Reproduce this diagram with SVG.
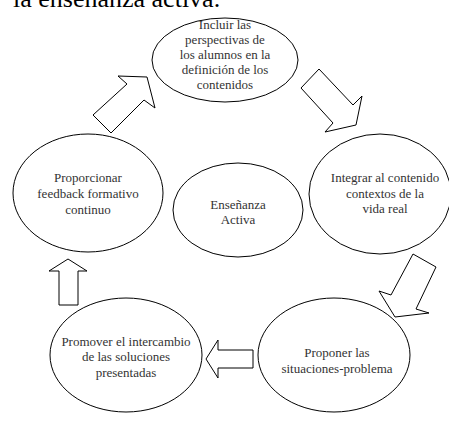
<svg xmlns="http://www.w3.org/2000/svg" width="449" height="421" viewBox="0 0 449 421">
<style>
.n{fill:#fff;stroke:#000;stroke-width:1}
.t{font-size:13px;fill:#333;text-anchor:middle}
.a{fill:#fff;stroke:#000;stroke-width:1;stroke-linejoin:miter}
</style>
<rect width="449" height="421" fill="#fff"/>
<text x="13" y="7" font-family="'Liberation Serif','Times New Roman',serif" font-size="26" fill="#000">la enseñanza activa.</text>
<g id="connectors">
<polygon class="a" points="93,115 127,84 118,76 147,77 155,108 144,100 111,133"/>
<polygon class="a" points="319,69 353,105 362,96 356,125 325,132 333,123 301,88"/>
<polygon class="a" points="413,254 436,267 416,309 429,313 395,317 379,291 391,295"/>
<polygon class="a" points="253,350 218,350 218,340 206,359 218,378 218,368 253,368"/>
<polygon class="a" points="59,305 59,271 49,271 68,259 87,271 78,271 78,305"/>
</g>
<g font-family="'Liberation Serif','Times New Roman',serif">
<g id="node-incluir">
<ellipse class="n" cx="225" cy="60" rx="73" ry="42"/>
<text class="t" x="225" y="29">Incluir las</text>
<text class="t" x="225" y="44">perspectivas de</text>
<text class="t" x="225" y="59">los alumnos en la</text>
<text class="t" x="225" y="74">definición de los</text>
<text class="t" x="225" y="89">contenidos</text>
</g>
<g id="node-integrar">
<ellipse class="n" cx="380" cy="194" rx="71" ry="60"/>
<text class="t" x="385" y="182">Integrar al contenido</text>
<text class="t" x="385" y="198">contextos de la</text>
<text class="t" x="385" y="213">vida real</text>
</g>
<g id="node-proponer">
<ellipse class="n" cx="334" cy="355" rx="76" ry="57"/>
<text class="t" x="337" y="357">Proponer las</text>
<text class="t" x="337" y="373">situaciones-problema</text>
</g>
<g id="node-promover">
<ellipse class="n" cx="126" cy="355" rx="76" ry="57"/>
<text class="t" x="126" y="346">Promover el intercambio</text>
<text class="t" x="126" y="361">de las soluciones</text>
<text class="t" x="126" y="377">presentadas</text>
</g>
<g id="node-feedback">
<ellipse class="n" cx="88" cy="193" rx="75" ry="59"/>
<text class="t" x="88" y="182">Proporcionar</text>
<text class="t" x="88" y="198">feedback formativo</text>
<text class="t" x="88" y="214">continuo</text>
</g>
<g id="node-center">
<ellipse class="n" cx="238" cy="210" rx="65" ry="47"/>
<text class="t" x="238" y="209">Enseñanza</text>
<text class="t" x="238" y="224">Activa</text>
</g>
</g>
</svg>
